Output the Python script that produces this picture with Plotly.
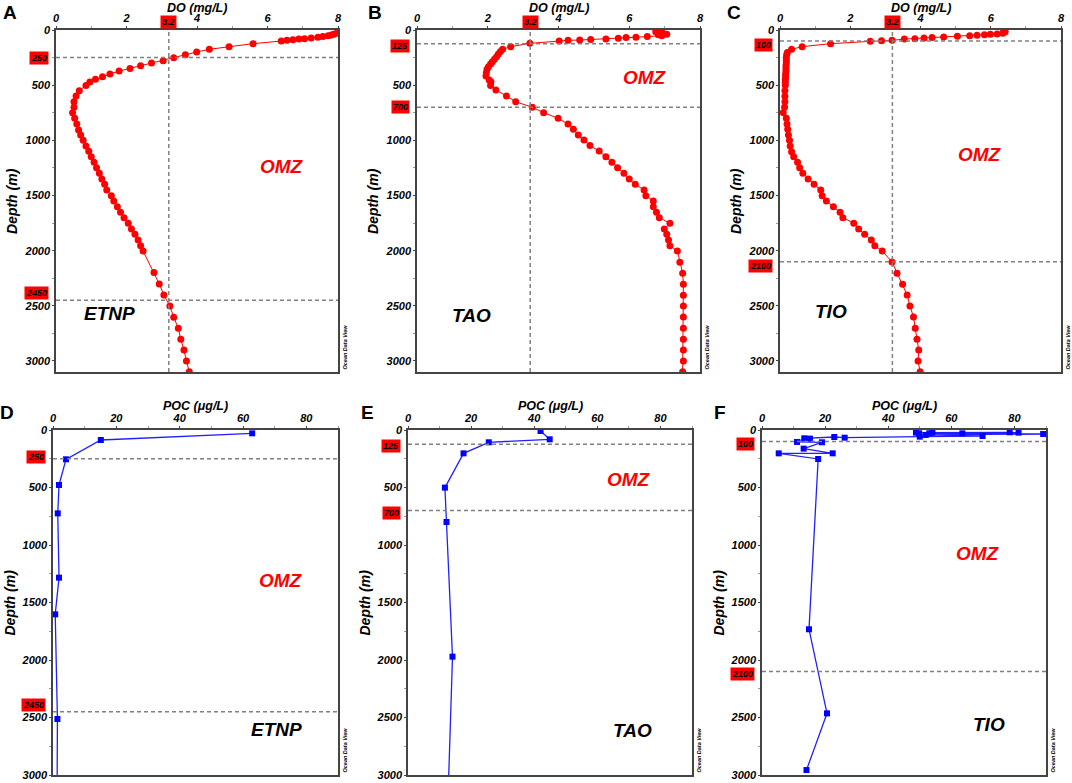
import plotly.graph_objects as go

# ---- valori ----
# DO (mg/L) vs profondita' (m), pannelli A-C
dep_a = [30, 39, 45, 51, 60, 66, 72, 79, 82, 88, 94, 100, 124, 151, 175, 199, 224, 251, 278, 299,
         323, 350, 372, 399, 423, 447, 471, 502, 550, 598, 650, 701, 749, 801, 852, 906, 952, 1000, 1051, 1100,
         1148, 1199, 1248, 1299, 1350, 1399, 1450, 1502, 1550, 1601, 1653, 1701, 1752, 1804, 1852, 1903, 1955, 2003, 2199, 2302,
         2402, 2502, 2604, 2704, 2804, 2900, 3000, 3097]
do_a = [7.95, 7.88, 7.81, 7.72, 7.57, 7.43, 7.24, 7.05, 6.89, 6.72, 6.55, 6.39, 5.59, 4.91, 4.35, 3.99, 3.67, 3.34, 3.04, 2.71,
        2.40, 2.10, 1.79, 1.53, 1.32, 1.12, 0.96, 0.85, 0.66, 0.57, 0.51, 0.51, 0.47, 0.53, 0.59, 0.64, 0.70, 0.77, 0.85, 0.93,
        1.00, 1.08, 1.15, 1.23, 1.30, 1.38, 1.44, 1.57, 1.64, 1.74, 1.83, 1.93, 2.05, 2.14, 2.24, 2.33, 2.40, 2.47, 2.78, 2.93,
        3.06, 3.23, 3.34, 3.47, 3.54, 3.63, 3.70, 3.78]

dep_b = [15, 21, 42, 30, 39, 51, 60, 66, 69, 75, 82, 85, 91, 94, 100, 121, 151, 175, 196, 218,
         242, 266, 287, 308, 332, 356, 387, 417, 453, 468, 502, 544, 598, 650, 701, 749, 801, 852, 900, 952,
         997, 1048, 1097, 1148, 1199, 1248, 1299, 1350, 1399, 1450, 1502, 1550, 1601, 1653, 1701, 1752, 1804, 1852, 1903, 1955,
         2003, 2106, 2205, 2305, 2405, 2502, 2601, 2704, 2804, 2900, 3000, 3097]
do_b = [6.75, 6.87, 6.82, 6.96, 7.06, 6.92, 6.51, 6.19, 5.91, 5.69, 5.34, 4.91, 4.60, 4.27, 4.02, 3.19, 2.65, 2.42, 2.36, 2.30,
        2.25, 2.19, 2.13, 2.08, 2.02, 1.98, 1.96, 1.95, 2.04, 2.09, 2.08, 2.23, 2.53, 2.79, 3.26, 3.58, 3.99, 4.27, 4.42, 4.56,
        4.72, 4.89, 5.15, 5.34, 5.51, 5.67, 5.85, 6.00, 6.17, 6.42, 6.47, 6.68, 6.68, 6.77, 6.85, 7.15, 6.99, 7.06, 7.11, 7.15,
        7.36, 7.43, 7.51, 7.53, 7.53, 7.53, 7.53, 7.53, 7.53, 7.53, 7.53, 7.51]

dep_c = [15, 21, 30, 36, 39, 42, 48, 51, 57, 63, 69, 72, 79, 82, 94, 97, 103, 124, 151, 175,
         205, 225, 250, 275, 300, 325, 350, 375, 400, 425, 450, 475, 500, 550, 600, 650, 700, 749, 801, 852,
         900, 952, 1000, 1051, 1103, 1148, 1199, 1248, 1299, 1350, 1399, 1450, 1502, 1550, 1601, 1653, 1701, 1752, 1804, 1852,
         1903, 1955, 2003, 2103, 2205, 2305, 2402, 2502, 2601, 2704, 2804, 2900, 3000, 3097]
do_c = [6.41, 6.36, 6.34, 6.18, 5.99, 5.82, 5.61, 5.40, 5.05, 4.66, 4.33, 4.10, 3.84, 3.54, 3.19, 2.89, 2.57, 1.44, 0.63, 0.33,
        0.21, 0.19, 0.18, 0.18, 0.18, 0.17, 0.17, 0.17, 0.16, 0.16, 0.15, 0.15, 0.15, 0.14, 0.14, 0.14, 0.13, 0.09, 0.18, 0.20,
        0.22, 0.24, 0.27, 0.29, 0.33, 0.39, 0.50, 0.56, 0.65, 0.80, 0.97, 1.16, 1.20, 1.32, 1.52, 1.71, 1.79, 2.10, 2.24, 2.41,
        2.60, 2.70, 2.91, 3.19, 3.33, 3.49, 3.62, 3.70, 3.80, 3.85, 3.90, 3.95, 3.93, 3.99]

# POC (ug/L) vs profondita' (m), pannelli D-F
dep_d = [29, 87, 255, 478, 725, 1284, 1603, 2513, 3100]
poc_d = [62.9, 15.1, 4.1, 1.9, 1.5, 1.9, 0.7, 1.4, 1.3]

dep_e = [9, 81, 107, 203, 501, 800, 1971, 3100]
poc_e = [42.0, 44.9, 25.6, 17.6, 11.7, 12.2, 14.1, 12.8]

dep_f = [20, 23, 23, 23, 29, 29, 29, 35, 43, 52, 58, 67, 61, 75, 72, 104, 107, 162, 203, 203, 252, 1733, 2464, 2957]
poc_f = [78.5, 48.8, 54.0, 81.3, 49.8, 53.0, 63.5, 89.1, 51.9, 69.9, 50.0, 26.2, 22.9, 15.2, 13.4, 11.1, 19.0, 13.2, 22.4, 5.3,
         17.8, 14.9, 20.6, 14.1]

siti = ["ETNP", "TAO", "TIO"]
lettere = ["A", "B", "C", "D", "E", "F"]
limiti_omz = [[250, 2450], [125, 700], [100, 2100]]
soglia_do = 3.2

# posizione delle scritte OMZ / sito (coordinate dati)
omz_top = [[6.4, 1240], [6.44, 430], [5.7, 1125]]
sito_top = [[1.53, 2570], [1.54, 2585], [1.44, 2555]]
omz_bot = [[72, 1305], [70, 430], [68.4, 1072]]
sito_bot = [[70.7, 2603], [71.3, 2609], [71.8, 2565]]

# ---- layout (pixel della pagina) ----
W, H = 1072, 783
top_x = [(56, 338), (417, 700), (780, 1061)]
bot_x = [(53, 338), (408, 692), (762, 1046)]
top_y = (30, 372)
bot_y = (430, 775)
lett_pos = [(10, 12), (375, 12), (734, 12), (7, 412), (367, 412), (720, 412)]
# spostamento verticale (px) dei riquadri rossi con la profondita'
box_shift = [[0, 7], [-2, 0], [-4, -4], [2, 7], [-2, -2], [-2, -2]]

FONT = "Liberation Sans"


def fnt(size, color="black", italic=True):
    return dict(family=FONT, size=size, color=color, weight="bold",
                style="italic" if italic else "normal")


fig = go.Figure()
profili = [(do_a, dep_a), (do_b, dep_b), (do_c, dep_c), (poc_d, dep_d), (poc_e, dep_e), (poc_f, dep_f)]
annotazioni = []
forme = []

for i in range(6):
    n = i + 1
    xs = "" if n == 1 else str(n)
    alto = i < 3
    k = i % 3
    xd = top_x[k] if alto else bot_x[k]
    yd = top_y if alto else bot_y

    x, y = profili[i]
    if alto:
        fig.add_trace(go.Scatter(x=x, y=y, xaxis="x" + xs, yaxis="y" + xs, mode="lines+markers",
                                 line=dict(color="#ff0000", width=1),
                                 marker=dict(color="#ff0000", size=7, symbol="circle")))
    else:
        fig.add_trace(go.Scatter(x=x, y=y, xaxis="x" + xs, yaxis="y" + xs, mode="lines+markers",
                                 line=dict(color="#2020ff", width=1.3),
                                 marker=dict(color="#0000ff", size=6, symbol="square")))

    asse = dict(showline=True, linecolor="#444", linewidth=1.5, mirror=True, showgrid=False, zeroline=False,
                automargin=False, ticks="outside", ticklen=2, tickwidth=1, tickcolor="#444", tickfont=fnt(11))
    fig.layout["xaxis" + xs] = dict(
        asse, domain=[xd[0] / W, xd[1] / W], anchor="y" + xs, side="top",
        range=[0, 8] if alto else [0, 90], dtick=2 if alto else 20,
        minor=dict(dtick=1 if alto else 10, ticks="outside", ticklen=2, tickcolor="#999"))
    fig.layout["yaxis" + xs] = dict(
        asse, domain=[1 - yd[1] / H, 1 - yd[0] / H], anchor="x" + xs,
        range=[3100, 0] if alto else [3000, 0], dtick=500,
        minor=dict(dtick=250, ticks="outside", ticklen=2, tickcolor="#999"))

    # titoli degli assi
    annotazioni.append(dict(text="DO (mg/L)" if alto else "POC (μg/L)", xref="x" + xs + " domain", x=0.5,
                            yref="y" + xs + " domain", y=1, yanchor="middle", yshift=22 if alto else 24,
                            showarrow=False, borderpad=0, font=fnt(12.5)))
    annotazioni.append(dict(text="Depth (m)", xref="x" + xs + " domain", x=0, xanchor="center", xshift=-44,
                            yref="y" + xs + " domain", y=0.5, textangle=-90,
                            showarrow=False, font=fnt(14)))

    # linee tratteggiate
    for j, d in enumerate(limiti_omz[k]):
        forme.append(dict(type="line", xref="x" + xs + " domain", x0=0, x1=1, yref="y" + xs, y0=d, y1=d,
                          line=dict(color="#808080", width=1.5, dash="4px,3px")))
        annotazioni.append(dict(text=str(d), xref="x" + xs + " domain", x=0, xanchor="right", xshift=-7,
                                yref="y" + xs, y=d, yanchor="middle", yshift=box_shift[i][j],
                                showarrow=False, bgcolor="#ff0000", borderpad=1, font=fnt(9)))
    if alto:
        forme.append(dict(type="line", xref="x" + xs, x0=soglia_do, x1=soglia_do, yref="y" + xs + " domain",
                          y0=0, y1=1, line=dict(color="#808080", width=1.5, dash="4px,3px")))
        annotazioni.append(dict(text=str(soglia_do), xref="x" + xs, x=soglia_do, xanchor="center",
                                yref="y" + xs + " domain", y=1, yanchor="bottom", yshift=1,
                                showarrow=False, bgcolor="#ff0000", borderpad=1, font=fnt(9)))

    omz = omz_top[k] if alto else omz_bot[k]
    sito = sito_top[k] if alto else sito_bot[k]
    annotazioni.append(dict(text="OMZ", xref="x" + xs, yref="y" + xs, x=omz[0], y=omz[1],
                            showarrow=False, font=fnt(19, "#ff0000")))
    annotazioni.append(dict(text=siti[k], xref="x" + xs, yref="y" + xs, x=sito[0], y=sito[1],
                            showarrow=False, font=fnt(19)))
    annotazioni.append(dict(text="Ocean Data View", xref="x" + xs + " domain", x=1, xanchor="left", xshift=1,
                            yref="y" + xs + " domain", y=0, yanchor="bottom", textangle=-90,
                            showarrow=False, font=fnt(5.5)))
    lx, ly = lett_pos[i]
    annotazioni.append(dict(text=lettere[i], xref="paper", yref="paper", x=lx / W, y=1 - ly / H,
                            xanchor="center", yanchor="middle", showarrow=False,
                            font=fnt(19, italic=False)))

fig.update_layout(width=W, height=H, margin=dict(l=0, r=0, t=0, b=0),
                  paper_bgcolor="white", plot_bgcolor="white", showlegend=False,
                  annotations=annotazioni, shapes=forme)

# tolgo il margine di default del body cosi' la figura riempie la finestra
fig.write_html("out.html", config={"displayModeBar": False},
               post_script="document.body.style.margin = '0';")
